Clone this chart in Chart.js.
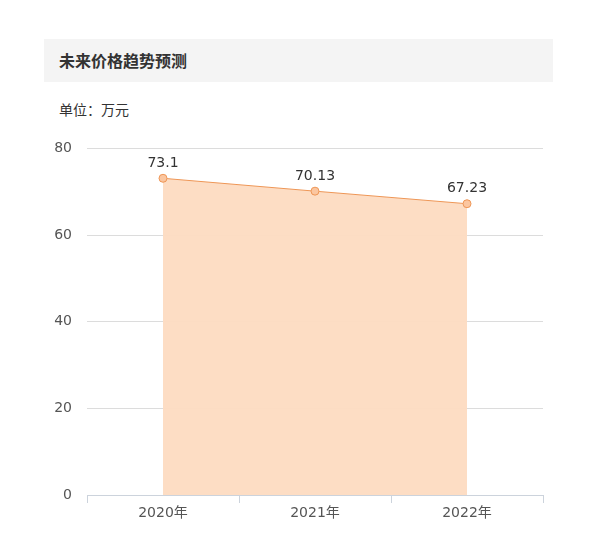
<!DOCTYPE html>
<html>
<head>
<meta charset="utf-8">
<script src="https://cdn.jsdelivr.net/npm/chart.js@4"></script>
<style>
  html, body { margin: 0; padding: 0; background: #fff; }
  body { width: 593px; height: 539px; position: relative; overflow: hidden; font-family: "Noto Sans CJK SC", "Noto Sans", sans-serif; }
  .head { position: absolute; left: 44px; top: 39px; width: 509px; height: 43px; background: #f4f4f4; }
  .head span { position: absolute; left: 15px; top: 10px; font-size: 16px; font-weight: bold; color: #333; line-height: 22px; }
  .unit { position: absolute; left: 59px; top: 99px; font-size: 14px; color: #333; line-height: 20px; }
  .wrap { position: absolute; left: 0; top: 125px; width: 593px; height: 414px; }
</style>
</head>
<body>
<div class="head"><span>未来价格趋势预测</span></div>
<div class="unit">单位：万元</div>
<div class="wrap"><canvas id="priceChart"></canvas></div>
<script>
const years = ['2020年', '2021年', '2022年'];
const prices = [73.1, 70.13, 67.23];
const yTicks = [0, 20, 40, 60, 80];

const lineColor = '#ee9656';
const fillColor = 'rgba(253, 219, 193, 0.95)';
const textColor = '#555';

// values above each point
const pointLabels = {
    id: 'pointLabels',
    afterDatasetsDraw(chart) {
        const ctx = chart.ctx;
        const meta = chart.getDatasetMeta(0);
        ctx.save();
        ctx.font = '14px "DejaVu Sans", sans-serif';
        ctx.fillStyle = '#333';
        ctx.textAlign = 'center';
        ctx.textBaseline = 'bottom';
        meta.data.forEach((pt, i) => {
            ctx.fillText(String(prices[i]), pt.x, pt.y - 8);
        });
        ctx.restore();
    }
};

new Chart(document.getElementById('priceChart'), {
    type: 'line',
    data: {
        labels: years,
        datasets: [{
            data: prices,
            borderColor: lineColor,
            borderWidth: 1,
            backgroundColor: fillColor,
            fill: 'origin',
            tension: 0,
            pointRadius: 4,
            pointBorderWidth: 1,
            pointBackgroundColor: '#fbc6a0',
            pointBorderColor: lineColor
        }]
    },
    options: {
        responsive: true,
        maintainAspectRatio: false,
        animation: false,
        layout: { padding: { top: 0, right: 50, left: 0, bottom: 0 } },
        plugins: { legend: { display: false }, tooltip: { enabled: false } },
        scales: {
            x: {
                offset: true,
                grid: { offset: true, drawOnChartArea: false, drawTicks: true, tickLength: 8, color: '#ccd3dc' },
                border: { color: '#ccd3dc' },
                ticks: { color: textColor, font: { size: 14, family: '"DejaVu Sans", "Noto Sans CJK SC", sans-serif' }, padding: 2 },
                afterFit: s => { s.height = 44; }
            },
            y: {
                min: 0, max: 80,
                afterBuildTicks: s => { s.ticks = yTicks.map(v => ({ value: v })); },
                grid: { color: '#dcdcdc', drawTicks: false },
                border: { display: false },
                ticks: { color: textColor, font: { size: 14, family: '"DejaVu Sans", sans-serif' }, padding: 15 },
                afterFit: s => { s.width = 87; }
            }
        }
    },
    plugins: [pointLabels]
});
</script>
</body>
</html>
